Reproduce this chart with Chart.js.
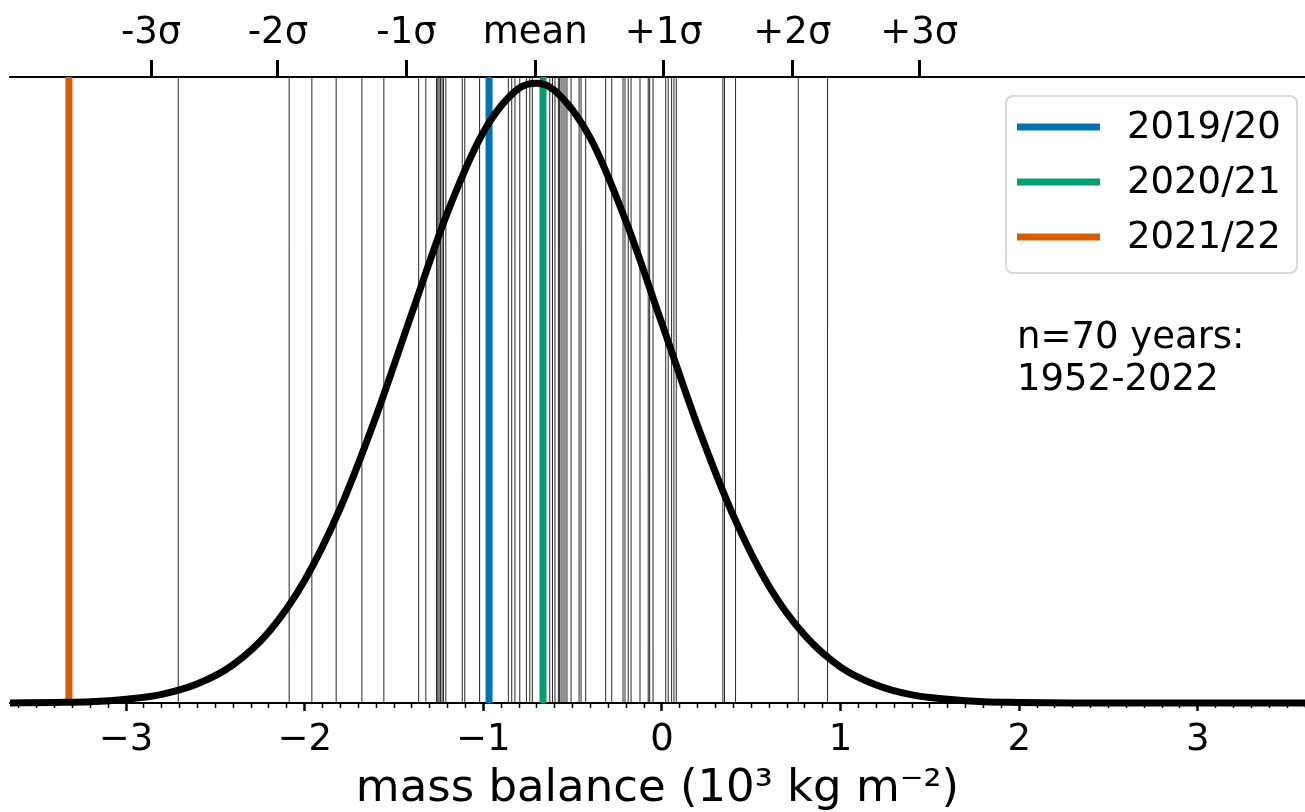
<!DOCTYPE html>
<html>
<head>
<meta charset="utf-8">
<script src="https://cdn.jsdelivr.net/npm/chart.js@4.4.1/dist/chart.umd.min.js"></script>
<style>
  html, body { margin: 0; padding: 0; background: #fff; }
  #wrap { width: 1305px; height: 812px; }
</style>
</head>
<body>
<div id="wrap"><canvas id="chart"></canvas></div>
<script>
// annual mass balance of each year (10^3 kg m^-2)
const yearValues = [
  -2.708, -2.087, -1.960, -1.824, -1.680, -1.557, -1.362, -1.322,
  -1.262, -1.255, -1.248, -1.240, -1.231, -1.223, -1.210, -1.118, -1.104,
  -1.021, -0.860, -0.841, -0.823, -0.796, -0.759, -0.740, -0.726,
  -0.628, -0.613, -0.599, -0.580, -0.574, -0.565, -0.554, -0.543, -0.532,
  -0.509, -0.464, -0.453, -0.427, -0.315, -0.281, -0.218, -0.207, -0.189,
  -0.173, -0.123, -0.077, -0.069, -0.050, 0.021, 0.035, 0.054, 0.067,
  0.080, 0.341, 0.350, 0.412, 0.763, 0.927
];

// the three highlighted years
const highlightYears = ['2019/20', '2020/21', '2021/22'];
const highlightValues = [-0.968, -0.666, -3.32];
const highlightColors = ['#0173B2', '#029E73', '#D55E00'];

// fitted normal curve (relative height)
const curveX = [-3.65, -3.4, -3.2, -3.0, -2.8, -2.6, -2.4, -2.2, -2.0, -1.8, -1.6, -1.4, -1.2, -1.0,
  -0.8, -0.7, -0.6, -0.4, -0.2, 0.0, 0.2, 0.4, 0.6, 0.8, 1.0, 1.2, 1.4, 1.6, 1.8, 2.0, 2.3, 2.7, 3.2, 3.6];
const curveY = [0.0002, 0.001, 0.002, 0.006, 0.014, 0.031, 0.062, 0.115, 0.198, 0.315, 0.463, 0.629, 0.792, 0.921,
  0.992, 1.0, 0.988, 0.911, 0.776, 0.612, 0.447, 0.302, 0.188, 0.109, 0.058, 0.029, 0.013, 0.006, 0.002, 0.001, 0.0002, 0, 0, 0];

// top axis: mean and sigma marks
const sigmaTicks = [-2.86, -2.15, -1.43, -0.71, 0.01, 0.73, 1.44];
const sigmaLabels = ['-3σ', '-2σ', '-1σ', 'mean', '+1σ', '+2σ', '+3σ'];

const noteLines = ['n=70 years:', '1952-2022'];
const xTitle = 'mass balance (10³ kg m⁻²)';
const xMin = -3.65, xMax = 3.6, yMax = 1.01;

const FONT = 'DejaVu Sans';

const datasets = [];
yearValues.forEach(v => {
  datasets.push({
    data: [{ x: v, y: 0 }, { x: v, y: yMax }],
    borderColor: 'rgba(0,0,0,0.85)',
    borderWidth: 1,
    pointRadius: 0,
    order: 3
  });
});
highlightValues.forEach((v, i) => {
  datasets.push({
    label: highlightYears[i],
    data: [{ x: v, y: 0 }, { x: v, y: yMax }],
    borderColor: highlightColors[i],
    borderWidth: 7,
    pointRadius: 0,
    order: 2
  });
});
datasets.push({
  data: curveX.map((x, i) => ({ x: x, y: curveY[i] })),
  borderColor: '#000',
  borderWidth: 7,
  pointRadius: 0,
  cubicInterpolationMode: 'monotone',
  clip: { left: 0, top: 0, right: 0, bottom: 6 },
  order: 1
});

// legend box and note, drawn inside the plot like the original
const legendBox = {
  id: 'legendBox',
  afterDraw(chart) {
    const { ctx, chartArea } = chart;
    const x0 = chartArea.right - 299, y0 = chartArea.top + 19, w = 291, h = 177;
    ctx.save();
    ctx.beginPath();
    ctx.roundRect(x0, y0, w, h, 7);
    ctx.fillStyle = 'rgba(255,255,255,0.8)';
    ctx.fill();
    ctx.strokeStyle = '#d9d9d9';
    ctx.lineWidth = 2;
    ctx.stroke();
    ctx.font = '37px "' + FONT + '"';
    ctx.textBaseline = 'middle';
    highlightYears.forEach((lab, i) => {
      const y = y0 + 31 + i * 55;
      ctx.strokeStyle = highlightColors[i];
      ctx.lineWidth = 7;
      ctx.beginPath();
      ctx.moveTo(x0 + 11, y);
      ctx.lineTo(x0 + 94, y);
      ctx.stroke();
      ctx.fillStyle = '#000';
      ctx.fillText(lab, x0 + 121, y + 1);
    });
    ctx.textBaseline = 'alphabetic';
    noteLines.forEach((t, i) => {
      ctx.fillText(t, x0 + 11, chartArea.top + 271 + i * 42);
    });
    ctx.restore();
  }
};

const isMajor = v => Math.abs(v - Math.round(v)) < 1e-6;

// fixed axis heights, no side padding so the plot spans the full width
const fitBottom = s => { s.height = 109; s.paddingLeft = 0; s.paddingRight = 0; };
const fitTop = s => { s.height = 77; s.paddingLeft = 0; s.paddingRight = 0; };

new Chart(document.getElementById('chart'), {
  type: 'line',
  data: { datasets: datasets },
  plugins: [legendBox],
  options: {
    responsive: true,
    maintainAspectRatio: false,
    animation: false,
    layout: { autoPadding: false, padding: { left: 10, right: 0, top: 0, bottom: 0 } },
    plugins: { legend: { display: false }, tooltip: { enabled: false } },
    scales: {
      x: {
        type: 'linear',
        position: 'bottom',
        min: xMin,
        max: xMax,
        afterFit: fitBottom,
        border: { display: true, color: '#000', width: 2 },
        grid: {
          drawOnChartArea: false,
          tickLength: 8,
          tickColor: '#000',
          tickWidth: c => isMajor(c.tick.value) ? 2.5 : 1.5,
          tickBorderDash: c => isMajor(c.tick.value) ? [] : [4, 40]
        },
        ticks: {
          stepSize: 0.1,
          includeBounds: false,
          autoSkip: false,
          maxRotation: 0,
          maxTicksLimit: 200,
          padding: 7,
          color: '#000',
          font: { family: FONT, size: 37 },
          callback: v => isMajor(v) ? String(Math.round(v)).replace('-', '−') : ''
        },
        title: {
          display: true,
          text: xTitle,
          color: '#000',
          padding: { top: 0, bottom: 0 },
          font: { family: FONT, size: 45, lineHeight: 1.0 }
        }
      },
      x2: {
        type: 'linear',
        position: 'top',
        min: xMin,
        max: xMax,
        afterFit: fitTop,
        afterBuildTicks: s => { s.ticks = sigmaTicks.map(v => ({ value: v })); },
        border: { display: true, color: '#000', width: 2 },
        grid: { drawOnChartArea: false, tickLength: 17, tickColor: '#000', tickWidth: 3 },
        ticks: {
          autoSkip: false,
          maxRotation: 0,
          padding: 4,
          color: '#000',
          font: { family: FONT, size: 37 },
          callback: (v, i) => sigmaLabels[i]
        }
      },
      y: {
        type: 'linear',
        display: false,
        min: 0,
        max: yMax
      }
    }
  }
});
</script>
</body>
</html>
